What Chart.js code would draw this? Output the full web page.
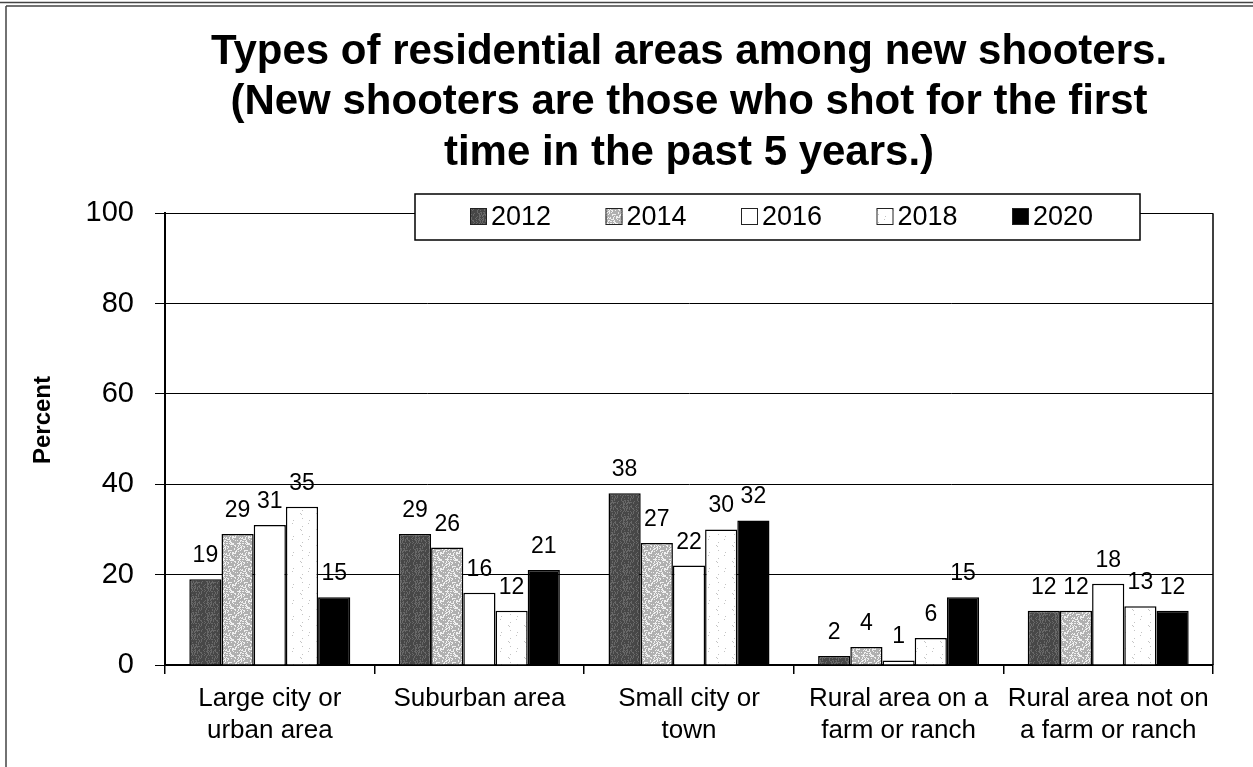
<!DOCTYPE html>
<html>
<head>
<meta charset="utf-8">
<script src="https://cdn.jsdelivr.net/npm/chart.js@4.4.1/dist/chart.umd.min.js"></script>
<style>
  html, body { margin: 0; padding: 0; background: #fff; }
  #c { display: block; }
</style>
</head>
<body>
<canvas id="c" width="1253" height="767"></canvas>
<script>
// ---- Data ----
const categories = [
  ["Large city or", "urban area"],
  ["Suburban area"],
  ["Small city or", "town"],
  ["Rural area on a", "farm or ranch"],
  ["Rural area not on", "a farm or ranch"]
];
const seriesLabels = ["2012", "2014", "2016", "2018", "2020"];
const values2012 = [19, 29, 38, 2, 12];
const values2014 = [29, 26, 27, 4, 12];
const values2016 = [31, 16, 22, 1, 18];
const values2018 = [35, 12, 30, 6, 13];
const values2020 = [15, 21, 32, 15, 12];
const yTickValues = [0, 20, 40, 60, 80, 100];
const titleLines = [
  "Types of residential areas among new shooters.",
  "(New shooters are those who shot for the first",
  "time in the past 5 years.)"
];
const yAxisTitle = "Percent";

// ---- Textures (deterministic) ----
function makePattern(base, speck, threshold, size, mul) {
  const c = document.createElement('canvas');
  c.width = size; c.height = size;
  const g = c.getContext('2d');
  g.fillStyle = base; g.fillRect(0, 0, size, size);
  g.fillStyle = speck;
  for (let y = 0; y < size; y++) {
    for (let x = 0; x < size; x++) {
      const h = ((x * 73856093) ^ (y * 19349663) ^ (mul * 83492791)) >>> 0;
      if ((h % 1000) < threshold) g.fillRect(x, y, 1, 1);
    }
  }
  return g.createPattern(c, 'repeat');
}
const ctx = document.getElementById('c').getContext('2d');
const fill2012 = makePattern('#474747', '#686868', 330, 16, 3);
const fill2014 = makePattern('#b0b0b0', '#f0f0f0', 320, 16, 7);
const fill2016 = '#ffffff';
const fill2018 = makePattern('#ffffff', '#c4c4c4', 25, 16, 11);
const fill2020 = '#000000';
const fills = [fill2012, fill2014, fill2016, fill2018, fill2020];
const seriesValues = [values2012, values2014, values2016, values2018, values2020];

const FONT = "'Liberation Sans', Arial, sans-serif";

// ---- Plugins ----
const decorPlugin = {
  id: 'decor',
  beforeDraw(chart) {
    const c = chart.ctx;
    c.save();
    c.fillStyle = '#fff';
    c.fillRect(0, 0, chart.width, chart.height);
    // outer frame
    c.strokeStyle = '#444';
    c.lineWidth = 1.5;
    c.beginPath();
    c.moveTo(0, 2.5); c.lineTo(chart.width, 2.5);
    c.moveTo(6, 6); c.lineTo(chart.width, 6);
    c.moveTo(6, 6); c.lineTo(6, chart.height);
    c.stroke();
    c.restore();
  },
  afterDraw(chart) {
    const c = chart.ctx;
    const a = chart.chartArea;
    c.save();
    // right border of plot
    c.strokeStyle = '#000';
    c.lineWidth = 1.5;
    c.beginPath();
    c.moveTo(a.right, a.top); c.lineTo(a.right, a.bottom);
    c.stroke();
    // y axis title
    c.fillStyle = '#000';
    c.font = "bold 24px " + FONT;
    c.textAlign = 'center';
    c.textBaseline = 'middle';
    c.translate(43, 420);
    c.rotate(-Math.PI / 2);
    c.fillText(yAxisTitle, 0, 0);
    c.restore();

    // legend
    c.save();
    const lx = 415, ly = 194, lw = 725, lh = 46;
    c.fillStyle = '#fff';
    c.fillRect(lx, ly, lw, lh);
    c.strokeStyle = '#000';
    c.lineWidth = 1.5;
    c.strokeRect(lx, ly, lw, lh);
    c.font = "27px " + FONT;
    c.textBaseline = 'middle';
    c.textAlign = 'left';
    chart.data.datasets.forEach((ds, i) => {
      const sx = 470 + i * 135.5;
      const sy = 208;
      c.fillStyle = ds.backgroundColor;
      c.fillRect(sx, sy, 17, 17);
      c.strokeStyle = '#222';
      c.lineWidth = 1;
      c.strokeRect(sx + 0.5, sy + 0.5, 16, 16);
      c.fillStyle = '#000';
      c.fillText(ds.label, sx + 21, 218);
    });
    c.restore();
  },
  afterDatasetsDraw(chart) {
    const c = chart.ctx;
    c.save();
    c.fillStyle = '#000';
    c.font = "23px " + FONT;
    c.textAlign = 'center';
    c.textBaseline = 'alphabetic';
    chart.data.datasets.forEach((ds, i) => {
      const meta = chart.getDatasetMeta(i);
      meta.data.forEach((el, j) => {
        c.fillText(String(ds.data[j]), el.x, el.y - 17);
      });
    });
    c.restore();
  }
};

new Chart(ctx, {
  type: 'bar',
  data: {
    labels: categories,
    datasets: seriesLabels.map((lab, i) => ({
      label: lab,
      data: seriesValues[i],
      backgroundColor: fills[i],
      borderColor: '#000',
      borderWidth: 1.5,
      categoryPercentage: 0.768,
      barPercentage: 1.0
    }))
  },
  options: {
    responsive: false,
    devicePixelRatio: 1,
    animation: false,
    layout: { padding: { left: 7, right: 40, top: 0, bottom: 0 } },
    plugins: {
      legend: { display: false },
      tooltip: { enabled: false },
      title: {
        display: true,
        text: titleLines,
        fullSize: false,
        color: '#000',
        font: { family: FONT, size: 42, weight: 'bold', lineHeight: 1.2 },
        padding: { top: 27, bottom: 35 }
      }
    },
    scales: {
      x: {
        afterFit(scale) { scale.height = 102; },
        grid: {
          display: true,
          drawOnChartArea: false,
          drawTicks: true,
          tickLength: 9,
          color: '#000',
          lineWidth: 1.5,
          offset: true
        },
        border: { display: true, color: '#000', width: 2 },
        ticks: {
          color: '#000',
          padding: 9,
          maxRotation: 0,
          autoSkip: false,
          font: { family: FONT, size: 26, lineHeight: 1.23 }
        }
      },
      y: {
        min: 0,
        max: 100,
        afterFit(scale) { scale.width = 158; },
        afterBuildTicks(scale) { scale.ticks = yTickValues.map(v => ({ value: v })); },
        grid: {
          color: '#000',
          lineWidth: 1,
          drawTicks: true,
          tickLength: 10
        },
        border: { display: true, color: '#000', width: 2 },
        ticks: {
          color: '#000',
          padding: 21,
          font: { family: FONT, size: 29 }
        }
      }
    }
  },
  plugins: [decorPlugin]
});
</script>
</body>
</html>
